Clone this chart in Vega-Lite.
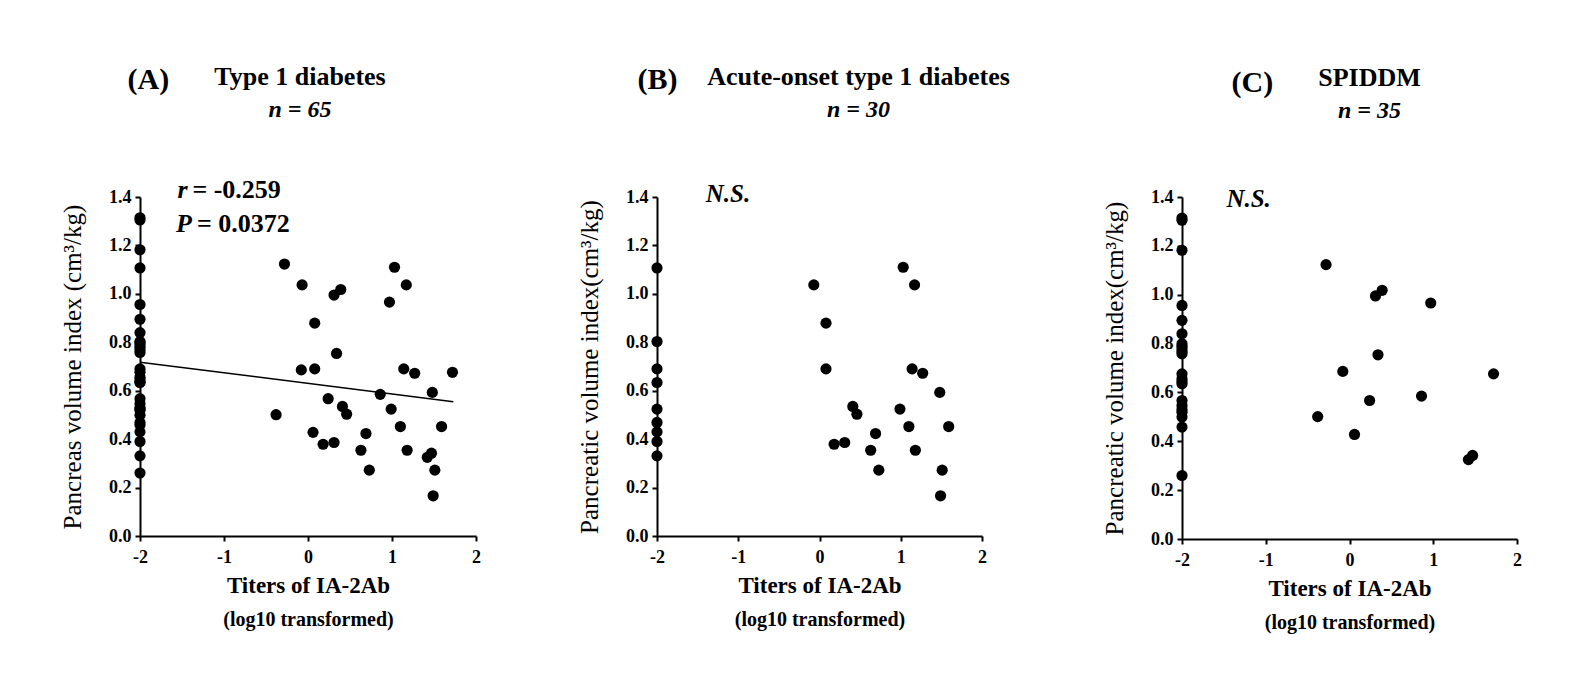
{
  "$schema": "https://vega.github.io/schema/vega-lite/v6.json",
  "background": "white",
  "padding": {"left": 60, "top": 63, "right": 5, "bottom": 5},
  "config": {
    "font": "Liberation Serif",
    "view": {"stroke": null},
    "axis": {"grid": false, "domainColor": "black", "domainWidth": 2, "tickColor": "black", "tickWidth": 2, "tickSize": 5, "labelColor": "black", "labelFont": "Liberation Serif", "labelFontSize": 18, "labelFontWeight": "bold", "labelPadding": 4, "labelFlush": false, "labelOverlap": false, "titleColor": "black", "titleFont": "Liberation Serif"},
    "axisX": {"titleFontSize": 23, "titleFontWeight": "bold", "titlePadding": 8, "labelPadding": 7},
    "axisY": {"titleFontSize": 25, "titleFontWeight": "normal", "titlePadding": 23},
    "title": {"font": "Liberation Serif", "fontSize": 26, "fontWeight": "bold", "color": "black", "subtitleFont": "Liberation Serif", "subtitleFontSize": 24, "subtitleFontWeight": "bold", "subtitleFontStyle": "italic", "subtitleColor": "black", "subtitlePadding": 8}
  },
  "datasets": {
    "patients": [
      {"t": -2, "v": 1.107, "g": "acute"}, {"t": -2, "v": 0.803, "g": "acute"}, {"t": -2, "v": 0.69, "g": "acute"}, {"t": -2, "v": 0.634, "g": "acute"}, {"t": -2, "v": 0.524, "g": "acute"}, {"t": -2, "v": 0.469, "g": "acute"}, {"t": -2, "v": 0.43, "g": "acute"}, {"t": -2, "v": 0.39, "g": "acute"}, {"t": -2, "v": 0.331, "g": "acute"},
      {"t": -0.07, "v": 1.037, "g": "acute"}, {"t": 0.08, "v": 0.879, "g": "acute"}, {"t": 0.08, "v": 0.69, "g": "acute"}, {"t": 0.18, "v": 0.379, "g": "acute"}, {"t": 0.31, "v": 0.386, "g": "acute"}, {"t": 0.41, "v": 0.535, "g": "acute"}, {"t": 0.46, "v": 0.503, "g": "acute"}, {"t": 0.63, "v": 0.354, "g": "acute"}, {"t": 0.69, "v": 0.423, "g": "acute"}, {"t": 0.73, "v": 0.272, "g": "acute"}, {"t": 0.99, "v": 0.524, "g": "acute"}, {"t": 1.03, "v": 1.11, "g": "acute"}, {"t": 1.17, "v": 1.037, "g": "acute"}, {"t": 1.1, "v": 0.452, "g": "acute"}, {"t": 1.14, "v": 0.69, "g": "acute"}, {"t": 1.18, "v": 0.354, "g": "acute"}, {"t": 1.27, "v": 0.672, "g": "acute"}, {"t": 1.48, "v": 0.593, "g": "acute"}, {"t": 1.51, "v": 0.272, "g": "acute"}, {"t": 1.49, "v": 0.166, "g": "acute"}, {"t": 1.59, "v": 0.452, "g": "acute"},
      {"t": -2, "v": 1.314, "g": "spiddm"}, {"t": -2, "v": 1.305, "g": "spiddm"}, {"t": -2, "v": 1.182, "g": "spiddm"}, {"t": -2, "v": 0.956, "g": "spiddm"}, {"t": -2, "v": 0.895, "g": "spiddm"}, {"t": -2, "v": 0.84, "g": "spiddm"}, {"t": -2, "v": 0.799, "g": "spiddm"}, {"t": -2, "v": 0.789, "g": "spiddm"}, {"t": -2, "v": 0.779, "g": "spiddm"}, {"t": -2, "v": 0.768, "g": "spiddm"}, {"t": -2, "v": 0.758, "g": "spiddm"}, {"t": -2, "v": 0.676, "g": "spiddm"}, {"t": -2, "v": 0.656, "g": "spiddm"}, {"t": -2, "v": 0.645, "g": "spiddm"}, {"t": -2, "v": 0.635, "g": "spiddm"}, {"t": -2, "v": 0.567, "g": "spiddm"}, {"t": -2, "v": 0.546, "g": "spiddm"}, {"t": -2, "v": 0.53, "g": "spiddm"}, {"t": -2, "v": 0.519, "g": "spiddm"}, {"t": -2, "v": 0.499, "g": "spiddm"}, {"t": -2, "v": 0.458, "g": "spiddm"}, {"t": -2, "v": 0.26, "g": "spiddm"},
      {"t": -0.28, "v": 1.123, "g": "spiddm"}, {"t": 0.31, "v": 0.995, "g": "spiddm"}, {"t": 0.39, "v": 1.018, "g": "spiddm"}, {"t": 0.97, "v": 0.966, "g": "spiddm"}, {"t": 0.34, "v": 0.754, "g": "spiddm"}, {"t": -0.08, "v": 0.686, "g": "spiddm"}, {"t": 1.72, "v": 0.676, "g": "spiddm"}, {"t": 0.86, "v": 0.585, "g": "spiddm"}, {"t": 0.24, "v": 0.567, "g": "spiddm"}, {"t": -0.38, "v": 0.501, "g": "spiddm"}, {"t": 0.06, "v": 0.428, "g": "spiddm"}, {"t": 1.42, "v": 0.325, "g": "spiddm"}, {"t": 1.47, "v": 0.342, "g": "spiddm"}
    ]
  },
  "spacing": 96,
  "hconcat": [
    {
      "title": {"text": "(A)", "fontSize": 30, "anchor": "start", "dx": 67, "dy": 35},
      "vconcat": [{
        "width": 336, "height": 339,
        "title": {"text": "Type 1 diabetes", "subtitle": "n = 65", "frame": "group", "anchor": "middle", "dx": -8, "offset": 55},
        "resolve": {"axis": {"x": "independent"}},
        "layer": [
          {"data": {"name": "patients"}, "mark": {"type": "circle", "size": 125, "color": "black", "opacity": 1},
           "encoding": {
             "x": {"field": "t", "type": "quantitative", "scale": {"domain": [-2, 2], "nice": false}, "axis": {"title": "Titers of IA-2Ab", "values": [-2, -1, 0, 1, 2], "labelExpr": "'' + datum.value"}},
             "y": {"field": "v", "type": "quantitative", "scale": {"domain": [0, 1.4], "nice": false}, "axis": {"title": "Pancreas volume index (cm³/kg)", "values": [0, 0.2, 0.4, 0.6, 0.8, 1.0, 1.2, 1.4], "format": ".1f"}}
           }},
          {"data": {"name": "patients"}, "mark": {"type": "point", "opacity": 0},
           "encoding": {
             "x": {"field": "t", "type": "quantitative", "axis": {"orient": "bottom", "offset": 65, "labels": false, "ticks": false, "domain": false, "title": "(log10 transformed)", "titleFontSize": 20, "titlePadding": 8}},
             "y": {"field": "v", "type": "quantitative", "title": "Pancreas volume index (cm³/kg)"}
           }},
          {"data": {"values": [{"t": -2, "v": 0.718}, {"t": 1.73, "v": 0.554}]}, "mark": {"type": "line", "color": "black", "strokeWidth": 1.5},
           "encoding": {
             "x": {"field": "t", "type": "quantitative", "axis": null},
             "y": {"field": "v", "type": "quantitative", "title": "Pancreas volume index (cm³/kg)"}
           }},
          {"data": {"values": [{}]}, "mark": {"type": "text", "text": "r", "font": "Liberation Serif", "fontSize": 26, "fontWeight": "bold", "fontStyle": "italic", "align": "left", "baseline": "alphabetic", "color": "black"},
           "encoding": {"x": {"datum": -1.555, "type": "quantitative", "axis": null}, "y": {"datum": 1.396, "type": "quantitative"}}},
          {"data": {"values": [{}]}, "mark": {"type": "text", "text": "= -0.259", "font": "Liberation Serif", "fontSize": 26, "fontWeight": "bold", "align": "left", "baseline": "alphabetic", "dx": 15, "color": "black"},
           "encoding": {"x": {"datum": -1.555, "type": "quantitative", "axis": null}, "y": {"datum": 1.396, "type": "quantitative"}}},
          {"data": {"values": [{}]}, "mark": {"type": "text", "text": "P", "font": "Liberation Serif", "fontSize": 26, "fontWeight": "bold", "fontStyle": "italic", "align": "left", "baseline": "alphabetic", "color": "black"},
           "encoding": {"x": {"datum": -1.571, "type": "quantitative", "axis": null}, "y": {"datum": 1.254, "type": "quantitative"}}},
          {"data": {"values": [{}]}, "mark": {"type": "text", "text": "= 0.0372", "font": "Liberation Serif", "fontSize": 26, "fontWeight": "bold", "align": "left", "baseline": "alphabetic", "dx": 21, "color": "black"},
           "encoding": {"x": {"datum": -1.571, "type": "quantitative", "axis": null}, "y": {"datum": 1.254, "type": "quantitative"}}}
        ]
      }]
    },
    {
      "spacing": 92,
      "hconcat": [
        {
          "title": {"text": "(B)", "fontSize": 30, "anchor": "start", "dx": 60, "dy": 35},
          "vconcat": [{
            "width": 325, "height": 339,
            "title": {"text": "Acute-onset type 1 diabetes", "subtitle": "n = 30", "frame": "group", "anchor": "middle", "dx": 39, "offset": 60},
            "resolve": {"axis": {"x": "independent"}},
            "layer": [
              {"data": {"name": "patients"}, "transform": [{"filter": "datum.g === 'acute'"}], "mark": {"type": "circle", "size": 125, "color": "black", "opacity": 1},
               "encoding": {
                 "x": {"field": "t", "type": "quantitative", "scale": {"domain": [-2, 2], "nice": false}, "axis": {"title": "Titers of IA-2Ab", "values": [-2, -1, 0, 1, 2], "labelExpr": "'' + datum.value"}},
                 "y": {"field": "v", "type": "quantitative", "scale": {"domain": [0, 1.4], "nice": false}, "axis": {"title": "Pancreatic volume index(cm³/kg)", "values": [0, 0.2, 0.4, 0.6, 0.8, 1.0, 1.2, 1.4], "format": ".1f"}}
               }},
              {"data": {"name": "patients"}, "transform": [{"filter": "datum.g === 'acute'"}], "mark": {"type": "point", "opacity": 0},
               "encoding": {
                 "x": {"field": "t", "type": "quantitative", "axis": {"orient": "bottom", "offset": 65, "labels": false, "ticks": false, "domain": false, "title": "(log10 transformed)", "titleFontSize": 20, "titlePadding": 8}},
                 "y": {"field": "v", "type": "quantitative", "title": "Pancreatic volume index(cm³/kg)"}
               }},
              {"data": {"values": [{}]}, "mark": {"type": "text", "text": "N.S.", "font": "Liberation Serif", "fontSize": 25, "fontWeight": "bold", "fontStyle": "italic", "align": "left", "baseline": "alphabetic", "color": "black"},
               "encoding": {"x": {"datum": -1.4, "type": "quantitative", "axis": null}, "y": {"datum": 1.38, "type": "quantitative"}}}
            ]
          }]
        },
        {
          "title": {"text": "(C)", "fontSize": 30, "anchor": "start", "dx": 129, "dy": 37},
          "vconcat": [{
            "width": 335, "height": 342,
            "title": {"text": "SPIDDM", "subtitle": "n = 35", "frame": "group", "anchor": "middle", "dx": 20, "offset": 64},
            "resolve": {"axis": {"x": "independent"}},
            "layer": [
              {"data": {"name": "patients"}, "transform": [{"filter": "datum.g === 'spiddm'"}], "mark": {"type": "circle", "size": 125, "color": "black", "opacity": 1},
               "encoding": {
                 "x": {"field": "t", "type": "quantitative", "scale": {"domain": [-2, 2], "nice": false}, "axis": {"title": "Titers of IA-2Ab", "values": [-2, -1, 0, 1, 2], "labelExpr": "'' + datum.value"}},
                 "y": {"field": "v", "type": "quantitative", "scale": {"domain": [0, 1.4], "nice": false}, "axis": {"title": "Pancreatic volume index(cm³/kg)", "values": [0, 0.2, 0.4, 0.6, 0.8, 1.0, 1.2, 1.4], "format": ".1f"}}
               }},
              {"data": {"name": "patients"}, "transform": [{"filter": "datum.g === 'spiddm'"}], "mark": {"type": "point", "opacity": 0},
               "encoding": {
                 "x": {"field": "t", "type": "quantitative", "axis": {"orient": "bottom", "offset": 65, "labels": false, "ticks": false, "domain": false, "title": "(log10 transformed)", "titleFontSize": 20, "titlePadding": 8}},
                 "y": {"field": "v", "type": "quantitative", "title": "Pancreatic volume index(cm³/kg)"}
               }},
              {"data": {"values": [{}]}, "mark": {"type": "text", "text": "N.S.", "font": "Liberation Serif", "fontSize": 25, "fontWeight": "bold", "fontStyle": "italic", "align": "left", "baseline": "alphabetic", "color": "black"},
               "encoding": {"x": {"datum": -1.47, "type": "quantitative", "axis": null}, "y": {"datum": 1.36, "type": "quantitative"}}}
            ]
          }]
        }
      ]
    }
  ]
}
